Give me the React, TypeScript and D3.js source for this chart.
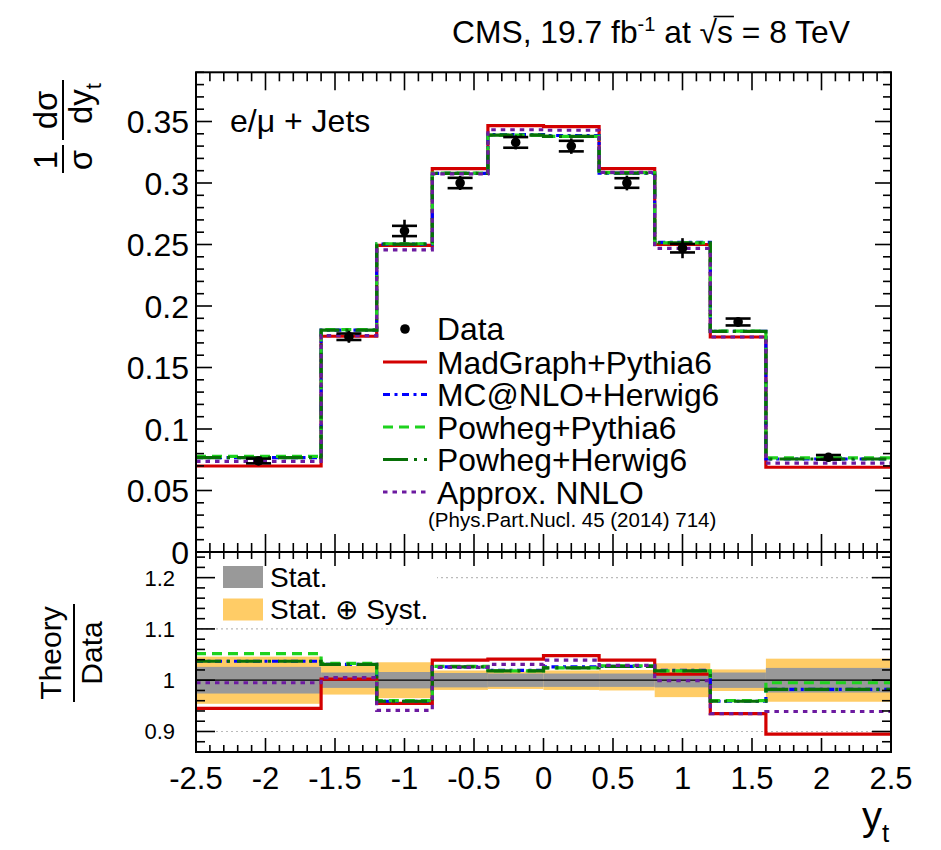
import React, { useEffect, useRef, useState } from "react";
import * as d3 from "d3";

// ---------------- data ----------------
const binEdges = [-2.5, -1.6, -1.2, -0.8, -0.4, 0, 0.4, 0.8, 1.2, 1.6, 2.5];
const dataCenters = [-2.05, -1.4, -1.0, -0.6, -0.2, 0.2, 0.6, 1.0, 1.4, 2.05];
const dataValues = [0.074, 0.175, 0.261, 0.300, 0.333, 0.330, 0.300, 0.247, 0.187, 0.077];
const statRel = [0.026, 0.015, 0.016, 0.014, 0.013, 0.013, 0.013, 0.014, 0.015, 0.024];
const totalRel = [0.046, 0.028, 0.035, 0.019, 0.017, 0.019, 0.020, 0.033, 0.021, 0.042];

// top panel, normalised cross sections
const madgraphTop = [0.0699, 0.1754, 0.2493, 0.3117, 0.3467, 0.3458, 0.3117, 0.2500, 0.1748, 0.0689];
const mcatnloTop = [0.0767, 0.1804, 0.2503, 0.3078, 0.3393, 0.3386, 0.3081, 0.2517, 0.1793, 0.0756];
const powhegPythiaTop = [0.0778, 0.1808, 0.2506, 0.3081, 0.3390, 0.3379, 0.3084, 0.2514, 0.1795, 0.0766];
const powhegHerwigTop = [0.0767, 0.1804, 0.2503, 0.3078, 0.3390, 0.3379, 0.3081, 0.2514, 0.1793, 0.0756];
const nnloTop = [0.0736, 0.1759, 0.2456, 0.3075, 0.3433, 0.3429, 0.3087, 0.2468, 0.1748, 0.0723];

// ratio panel, theory / data
const madgraphRatio = [0.945, 1.002, 0.955, 1.039, 1.041, 1.048, 1.039, 1.012, 0.935, 0.895];
const mcatnloRatio = [1.037, 1.031, 0.959, 1.026, 1.019, 1.026, 1.027, 1.019, 0.959, 0.982];
const powhegPythiaRatio = [1.052, 1.033, 0.960, 1.027, 1.018, 1.024, 1.028, 1.018, 0.960, 0.995];
const powhegHerwigRatio = [1.037, 1.031, 0.959, 1.026, 1.018, 1.024, 1.027, 1.018, 0.959, 0.982];
const nnloRatio = [0.995, 1.005, 0.941, 1.025, 1.031, 1.039, 1.029, 0.999, 0.935, 0.939];

const xTickLabels = ["-2.5", "-2", "-1.5", "-1", "-0.5", "0", "0.5", "1", "1.5", "2", "2.5"];
const yTopTickLabels = ["0", "0.05", "0.1", "0.15", "0.2", "0.25", "0.3", "0.35"];
const yRatioTickLabels = ["0.9", "1", "1.1", "1.2"];

const models = [
  { name: "MadGraph+Pythia6", top: madgraphTop, ratio: madgraphRatio, color: "#d30000", dash: "none" },
  { name: "MC@NLO+Herwig6", top: mcatnloTop, ratio: mcatnloRatio, color: "#0000ff", dash: "7,4.5,3,4.5" },
  { name: "Powheg+Pythia6", top: powhegPythiaTop, ratio: powhegPythiaRatio, color: "#1ed21e", dash: "10,6" },
  { name: "Powheg+Herwig6", top: powhegHerwigTop, ratio: powhegHerwigRatio, color: "#077007", dash: "25,6,3,7" },
  { name: "Approx. NNLO", top: nnloTop, ratio: nnloRatio, color: "#6c1aa0", dash: "4.5,5" },
];

// ---------------- layout ----------------
const FONT = "'Liberation Sans', Arial, Helvetica, sans-serif";
const L = 196, R = 891;
const TOP_T = 72.3, TOP_B = 552, RAT_B = 752;

export default function App() {
  const titleRef = useRef<SVGTextElement>(null);
  const [bar, setBar] = useState<[number, number] | null>(null);

  useEffect(() => {
    document.body.style.margin = "0";
    const t = titleRef.current;
    if (t) {
      const txt = t.textContent || "";
      const idx = txt.indexOf("√");
      if (idx >= 0) {
        try {
          const e1 = t.getExtentOfChar(idx);
          const e2 = t.getExtentOfChar(idx + 1);
          setBar([e1.x + e1.width * 0.8, e2.x + e2.width + 1]);
        } catch (err) {
          /* ignore */
        }
      }
    }
  }, []);

  const x = d3.scaleLinear().domain([-2.5, 2.5]).range([L, R]);
  const yT = d3.scaleLinear().domain([0, 0.39]).range([TOP_B, TOP_T]);
  const yR = d3.scaleLinear().domain([0.86, 1.25]).range([RAT_B, TOP_B]);

  const stepPath = (vals: number[], ys: d3.ScaleLinear<number, number>) => {
    const pts: [number, number][] = vals.map((v, i) => [x(binEdges[i]), ys(v)]);
    pts.push([x(binEdges[binEdges.length - 1]), ys(vals[vals.length - 1])]);
    return d3.line().curve(d3.curveStepAfter)(pts) || "";
  };

  const xMinor = x.ticks(50);
  const xMajor = x.ticks(10);
  const yTMinor = yT.ticks(39);
  const yTMajor = yT.ticks(8);
  const yRMinor = d3.range(0, 20).map((i) => 0.86 + i * 0.02);
  const yRMajor = yR.ticks(4);
  const isMajorX = (v: number) => Math.abs(v * 2 - Math.round(v * 2)) < 1e-6;
  const isMajorYT = (v: number) => Math.abs(v * 20 - Math.round(v * 20)) < 1e-6;
  const isMajorYR = (v: number) => Math.abs(v * 10 - Math.round(v * 10)) < 1e-6;

  const tickStroke = { stroke: "#000", strokeWidth: 1.6 };

  const legendRows = [329, 362, 394.5, 427, 459.5, 492];

  return (
    <div style={{ position: "absolute", left: 0, top: 0 }}>
      <svg width={941} height={850} style={{ display: "block", background: "#fff" }} fontFamily={FONT}>
        {/* title */}
        <text ref={titleRef} x={452} y={43} fontSize={31.8} fill="#000">
          <tspan>CMS, 19.7 fb</tspan>
          <tspan fontSize={20} dy={-12}>-1</tspan>
          <tspan dy={12}> at </tspan>
          <tspan>√</tspan>
          <tspan>s</tspan>
          <tspan> = 8 TeV</tspan>
        </text>
        {bar && <line x1={bar[0]} x2={bar[1]} y1={16.5} y2={16.5} stroke="#000" strokeWidth={1.6} />}

        {/* ================= TOP PANEL ================= */}
        {models.map((m) => (
          <path key={"t" + m.name} d={stepPath(m.top, yT)} fill="none" stroke={m.color}
            strokeWidth={3.2} strokeDasharray={m.dash} />
        ))}
        {dataValues.map((v, i) => {
          const cx = x(dataCenters[i]);
          const tot = v * totalRel[i];
          const st = v * statRel[i];
          return (
            <g key={"d" + i}>
              <line x1={cx} x2={cx} y1={yT(v - tot)} y2={yT(v + tot)} stroke="#000" strokeWidth={2.6} />
              <line x1={cx - 12.5} x2={cx + 12.5} y1={yT(v - st)} y2={yT(v - st)} stroke="#000" strokeWidth={2.6} />
              <line x1={cx - 12.5} x2={cx + 12.5} y1={yT(v + st)} y2={yT(v + st)} stroke="#000" strokeWidth={2.6} />
              <circle cx={cx} cy={yT(v)} r={4.8} fill="#000" />
            </g>
          );
        })}

        {xMinor.map((t, i) => {
          const len = isMajorX(t) ? 18 : 9;
          return (
            <g key={"xt" + i}>
              <line x1={x(t)} x2={x(t)} y1={TOP_T} y2={TOP_T + len} {...tickStroke} />
              <line x1={x(t)} x2={x(t)} y1={TOP_B} y2={TOP_B - len} {...tickStroke} />
            </g>
          );
        })}
        {yTMinor.map((t, i) => {
          const len = isMajorYT(t) ? 16 : 8;
          return (
            <g key={"yt" + i}>
              <line x1={L} x2={L + len} y1={yT(t)} y2={yT(t)} {...tickStroke} />
              <line x1={R} x2={R - len} y1={yT(t)} y2={yT(t)} {...tickStroke} />
            </g>
          );
        })}
        {yTMajor.map((t, i) => (
          <text key={"ytl" + i} x={189} y={yT(t) + 11.5} fontSize={32} textAnchor="end" fill="#000">
            {yTopTickLabels[i]}
          </text>
        ))}

        <text x={230} y={132} fontSize={32} fill="#000">e/μ + Jets</text>

        {/* top legend */}
        <circle cx={405} cy={legendRows[0]} r={4.8} fill="#000" />
        <text x={437} y={legendRows[0] + 11} fontSize={31.8} fill="#000">Data</text>
        {models.map((m, i) => (
          <g key={"lg" + m.name}>
            <line x1={383} x2={427} y1={legendRows[i + 1]} y2={legendRows[i + 1]} stroke={m.color}
              strokeWidth={3.2} strokeDasharray={m.dash} />
            <text x={437} y={legendRows[i + 1] + 11.5} fontSize={31.8} fill="#000">{m.name}</text>
          </g>
        ))}
        <text x={428} y={527} fontSize={20.5} fill="#000">(Phys.Part.Nucl. 45 (2014) 714)</text>

        {/* y title top */}
        <g transform="rotate(-90)">
          <text x={-160} y={57} fontSize={33} textAnchor="middle" fill="#000">1</text>
          <text x={-160} y={92} fontSize={33} textAnchor="middle" fill="#000">σ</text>
          <line x1={-145} x2={-173} y1={63} y2={63} stroke="#000" strokeWidth={2} />
          <text x={-110} y={57} fontSize={33} textAnchor="middle" fill="#000">dσ</text>
          <text x={-124} y={92} fontSize={33} textAnchor="start" fill="#000">
            dy<tspan fontSize={22} dy={9}>t</tspan>
          </text>
          <line x1={-80} x2={-140} y1={63} y2={63} stroke="#000" strokeWidth={2} />
        </g>

        {/* ================= RATIO PANEL ================= */}
        {dataValues.map((_, i) => (
          <rect key={"ob" + i} x={x(binEdges[i])} width={x(binEdges[i + 1]) - x(binEdges[i])}
            y={yR(1 + totalRel[i])} height={yR(1 - totalRel[i]) - yR(1 + totalRel[i])} fill="#ffcc66" />
        ))}
        {dataValues.map((_, i) => (
          <rect key={"gb" + i} x={x(binEdges[i])} width={x(binEdges[i + 1]) - x(binEdges[i])}
            y={yR(1 + statRel[i])} height={yR(1 - statRel[i]) - yR(1 + statRel[i])} fill="#999999" />
        ))}
        {[0.9, 1.1, 1.2].map((g) => (
          <line key={"g" + g} x1={L} x2={R} y1={yR(g)} y2={yR(g)} stroke="#bbbbbb" strokeWidth={1.2}
            strokeDasharray="2,3" />
        ))}
        <line x1={L} x2={R} y1={yR(1)} y2={yR(1)} stroke="#000" strokeWidth={1.3} />
        {models.map((m) => (
          <path key={"r" + m.name} d={stepPath(m.ratio, yR)} fill="none" stroke={m.color}
            strokeWidth={3.2} strokeDasharray={m.dash} />
        ))}

        {/* ratio legend */}
        <rect x={198} y={554} width={239} height={71} fill="#fff" />
        <rect x={223} y={566} width={40} height={22} fill="#999999" />
        <rect x={223} y={598.5} width={40} height={22} fill="#ffcc66" />
        <text x={270} y={587} fontSize={28} fill="#000">Stat.</text>
        <text x={270} y={619} fontSize={28} fill="#000">Stat. ⊕ Syst.</text>

        {xMinor.map((t, i) => {
          const len = isMajorX(t) ? 14 : 7;
          return (
            <g key={"rxt" + i}>
              <line x1={x(t)} x2={x(t)} y1={TOP_B} y2={TOP_B + len} {...tickStroke} />
              <line x1={x(t)} x2={x(t)} y1={RAT_B} y2={RAT_B - len} {...tickStroke} />
            </g>
          );
        })}
        {yRMinor.map((t, i) => {
          const len = isMajorYR(t) ? 19 : 9;
          return (
            <g key={"ryt" + i}>
              <line x1={L} x2={L + len} y1={yR(t)} y2={yR(t)} {...tickStroke} />
              <line x1={R} x2={R - len} y1={yR(t)} y2={yR(t)} {...tickStroke} />
            </g>
          );
        })}
        {yRMajor.map((t, i) => (
          <text key={"rytl" + i} x={175} y={yR(t) + 8} fontSize={22} textAnchor="end" fill="#000">
            {yRatioTickLabels[i]}
          </text>
        ))}
        {xMajor.map((t, i) => (
          <text key={"xtl" + i} x={x(t)} y={789} fontSize={31} textAnchor="middle" fill="#000">
            {xTickLabels[i]}
          </text>
        ))}

        <g transform="rotate(-90)">
          <text x={-653} y={61} fontSize={30} textAnchor="middle" fill="#000">Theory</text>
          <line x1={-604} x2={-702} y1={74} y2={74} stroke="#000" strokeWidth={2} />
          <text x={-653} y={102} fontSize={30} textAnchor="middle" fill="#000">Data</text>
        </g>

        {/* x title */}
        <text x={862} y={830} fontSize={40} fill="#000">
          y<tspan fontSize={26} dy={12}>t</tspan>
        </text>

        {/* frames */}
        <rect x={L} y={TOP_T} width={R - L} height={TOP_B - TOP_T} fill="none" stroke="#000" strokeWidth={2} />
        <rect x={L} y={TOP_B} width={R - L} height={RAT_B - TOP_B} fill="none" stroke="#000" strokeWidth={2} />
      </svg>
    </div>
  );
}
